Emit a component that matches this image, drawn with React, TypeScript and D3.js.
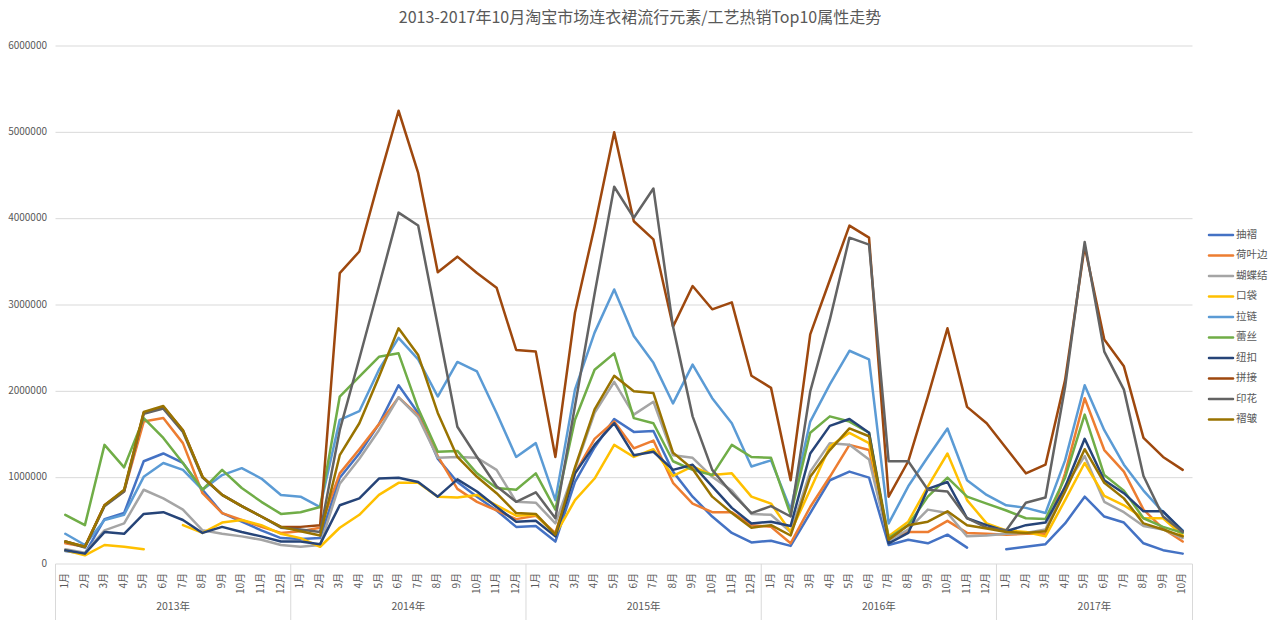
import React from "react";
import * as d3 from "d3";

const title = "2013-2017年10月淘宝市场连衣裙流行元素/工艺热销Top10属性走势";
const years = ["2013年", "2014年", "2015年", "2016年", "2017年"];
const monthsPerYear = [12, 12, 12, 12, 10];
const monthNames = ["1月", "2月", "3月", "4月", "5月", "6月", "7月", "8月", "9月", "10月", "11月", "12月"];
const yTicks = [0, 1000000, 2000000, 3000000, 4000000, 5000000, 6000000];

const seriesNames = ["抽褶", "荷叶边", "蝴蝶结", "口袋", "拉链", "蕾丝", "纽扣", "拼接", "印花", "褶皱"];
const seriesColors = ["#4472C4", "#ED7D31", "#A5A5A5", "#FFC000", "#5B9BD5", "#70AD47", "#264478", "#9E480E", "#636363", "#997300"];

type V = number | null;

const chouzhe: V[] = [
  150000, 120000, 520000, 590000, 1190000, 1280000, 1170000, 860000, 590000, 490000, 390000, 300000,
  290000, 300000, 1000000, 1280000, 1620000, 2070000, 1750000, 1220000, 950000, 780000, 620000, 430000,
  440000, 260000, 950000, 1350000, 1680000, 1530000, 1540000, 1070000, 780000, 550000, 360000, 250000,
  270000, 210000, 590000, 970000, 1070000, 1000000, 220000, 280000, 240000, 340000, 190000, null,
  170000, 200000, 230000, 470000, 780000, 550000, 480000, 240000, 160000, 120000,
];
const heyebian: V[] = [
  240000, 200000, 680000, 840000, 1650000, 1690000, 1400000, 820000, 590000, 510000, 430000, 360000,
  380000, 420000, 1050000, 1330000, 1620000, 1930000, 1720000, 1250000, 870000, 720000, 620000, 520000,
  560000, 360000, 1050000, 1450000, 1650000, 1340000, 1430000, 940000, 700000, 600000, 600000, 450000,
  430000, 240000, 660000, 1010000, 1380000, 1320000, 300000, 370000, 370000, 500000, 360000, 350000,
  340000, 350000, 350000, 1050000, 1920000, 1320000, 1070000, 630000, 410000, 260000,
];
const hudiejie: V[] = [
  170000, 130000, 390000, 470000, 860000, 760000, 630000, 390000, 350000, 320000, 280000, 220000,
  200000, 220000, 930000, 1220000, 1550000, 1930000, 1700000, 1230000, 1240000, 1230000, 1090000, 720000,
  710000, 470000, 1100000, 1750000, 2110000, 1730000, 1880000, 1260000, 1230000, 1010000, 850000, 580000,
  570000, 370000, 1070000, 1400000, 1380000, 1210000, 270000, 400000, 630000, 590000, 320000, 330000,
  350000, 360000, 400000, 900000, 1250000, 720000, 600000, 440000, 400000, 300000,
];
const koudai: V[] = [
  160000, 100000, 220000, 200000, 170000, null, 450000, 360000, 480000, 510000, 450000, 350000,
  300000, 200000, 420000, 570000, 800000, 940000, 940000, 780000, 770000, 800000, 680000, 560000,
  570000, 340000, 740000, 990000, 1380000, 1240000, 1330000, 1020000, 1130000, 1030000, 1050000, 780000,
  700000, 370000, 860000, 1360000, 1520000, 1400000, 320000, 490000, 900000, 1280000, 740000, 470000,
  390000, 370000, 320000, 740000, 1170000, 790000, 680000, 530000, 530000, 330000,
];
const lalian: V[] = [
  350000, 220000, 510000, 570000, 1010000, 1170000, 1090000, 860000, 1030000, 1110000, 990000, 800000,
  780000, 660000, 1670000, 1770000, 2250000, 2620000, 2370000, 1940000, 2340000, 2230000, 1750000, 1240000,
  1400000, 740000, 2020000, 2680000, 3180000, 2640000, 2330000, 1860000, 2310000, 1920000, 1630000, 1130000,
  1200000, 630000, 1650000, 2080000, 2470000, 2370000, 470000, 900000, 1240000, 1570000, 970000, 800000,
  680000, 650000, 590000, 1200000, 2070000, 1550000, 1150000, 850000, 600000, 390000,
];
const leisi: V[] = [
  570000, 450000, 1380000, 1120000, 1690000, 1460000, 1170000, 860000, 1090000, 880000, 720000, 580000,
  600000, 660000, 1940000, 2170000, 2400000, 2440000, 1800000, 1300000, 1310000, 1050000, 880000, 860000,
  1050000, 630000, 1670000, 2250000, 2440000, 1690000, 1630000, 1190000, 1090000, 1030000, 1380000, 1240000,
  1230000, 570000, 1520000, 1710000, 1650000, 1520000, 300000, 450000, 780000, 1000000, 780000, 700000,
  620000, 530000, 520000, 1000000, 1730000, 1030000, 850000, 530000, 430000, 360000,
];
const niukou: V[] = [
  160000, 120000, 370000, 350000, 580000, 600000, 510000, 360000, 430000, 370000, 320000, 260000,
  260000, 230000, 680000, 760000, 990000, 1000000, 950000, 780000, 980000, 840000, 660000, 490000,
  500000, 320000, 1050000, 1380000, 1630000, 1260000, 1300000, 1090000, 1150000, 900000, 650000, 470000,
  490000, 440000, 1280000, 1600000, 1680000, 1520000, 240000, 360000, 870000, 950000, 530000, 450000,
  380000, 450000, 480000, 890000, 1450000, 970000, 820000, 610000, 610000, 380000,
];
const pinjie: V[] = [
  260000, 200000, 680000, 850000, 1750000, 1820000, 1550000, 1010000, 800000, 670000, 550000, 430000,
  430000, 450000, 3370000, 3620000, 4450000, 5250000, 4530000, 3380000, 3560000, 3370000, 3200000, 2480000,
  2460000, 1240000, 2910000, 3910000, 5000000, 3970000, 3760000, 2750000, 3220000, 2950000, 3030000, 2180000,
  2040000, 970000, 2660000, 3290000, 3920000, 3780000, 780000, 1190000, 1940000, 2730000, 1820000, 1630000,
  1340000, 1050000, 1150000, 2130000, 3680000, 2600000, 2290000, 1460000, 1240000, 1090000,
];
const yinhua: V[] = [
  260000, 190000, 670000, 840000, 1740000, 1800000, 1530000, 1000000, 800000, 670000, 550000, 420000,
  400000, 370000, 1550000, 2380000, 3220000, 4070000, 3920000, 2760000, 1590000, 1240000, 900000, 720000,
  830000, 530000, 1830000, 3130000, 4370000, 4010000, 4350000, 2750000, 1710000, 1090000, 820000, 590000,
  670000, 550000, 2000000, 2830000, 3780000, 3700000, 1190000, 1190000, 860000, 840000, 530000, 420000,
  390000, 710000, 770000, 2050000, 3730000, 2460000, 2020000, 1020000, 550000, 370000,
];
const zhezhou: V[] = [
  260000, 200000, 680000, 860000, 1760000, 1830000, 1550000, 1010000, 800000, 670000, 550000, 430000,
  380000, 330000, 1260000, 1630000, 2170000, 2730000, 2420000, 1750000, 1240000, 1010000, 820000, 590000,
  580000, 340000, 1120000, 1790000, 2180000, 2000000, 1980000, 1290000, 1100000, 780000, 590000, 420000,
  450000, 330000, 1010000, 1320000, 1570000, 1480000, 280000, 450000, 490000, 610000, 450000, 410000,
  370000, 360000, 380000, 840000, 1330000, 940000, 760000, 470000, 400000, 320000,
];

const seriesValues = [chouzhe, heyebian, hudiejie, koudai, lalian, leisi, niukou, pinjie, yinhua, zhezhou];

const FONT = "'Noto Sans CJK SC', 'Noto Sans', sans-serif";
const TEXT = "#595959";
const GRID = "#d9d9d9";

export default function App() {
  const width = 1280;
  const height = 622;
  const left = 55.5;
  const right = 1192.5;
  const top = 46;
  const bottom = 564;

  const categories: { year: number; month: string; key: string }[] = [];
  monthsPerYear.forEach((n, yi) => {
    for (let m = 0; m < n; m++) categories.push({ year: yi, month: monthNames[m], key: `${yi}-${m}` });
  });

  const x = d3.scaleBand<string>().domain(categories.map((c) => c.key)).range([left, right]).padding(0);
  const cx = (i: number) => (x(categories[i].key) as number) + x.bandwidth() / 2;
  const y = d3.scaleLinear().domain([0, 6000000]).range([bottom, top]);

  const line = d3
    .line<V>()
    .defined((d) => d !== null)
    .x((_, i) => cx(i))
    .y((d) => y(d as number));

  const yearStarts: number[] = [];
  let acc = 0;
  monthsPerYear.forEach((n) => {
    yearStarts.push(acc);
    acc += n;
  });

  return (
    <svg
      width={width}
      height={height}
      style={{ position: "absolute", left: 0, top: 0, display: "block", background: "#fff" }}
      fontFamily={FONT}
    >
      <rect x={0} y={0} width={width} height={height} fill="#fff" />
      <text x={640} y={19} textAnchor="middle" dominantBaseline="middle" fontSize={16} fill={TEXT}>
        {title}
      </text>

      {yTicks.map((t) => (
        <g key={t}>
          {t > 0 && <line x1={left} x2={right} y1={y(t)} y2={y(t)} stroke={GRID} strokeWidth={1} />}
          <text x={47} y={y(t)} textAnchor="end" dominantBaseline="middle" fontSize={10} fill={TEXT}>
            {t}
          </text>
        </g>
      ))}

      <line x1={left} x2={right} y1={bottom} y2={bottom} stroke={GRID} strokeWidth={1} />
      {yearStarts.map((s, i) => (
        <line
          key={"sep" + i}
          x1={x(categories[s].key) as number}
          x2={x(categories[s].key) as number}
          y1={bottom}
          y2={620}
          stroke={GRID}
          strokeWidth={1}
        />
      ))}
      <line x1={right} x2={right} y1={bottom} y2={620} stroke={GRID} strokeWidth={1} />

      {categories.map((c, i) => (
        <text
          key={"m" + c.key}
          transform={`translate(${cx(i)},${573}) rotate(-90)`}
          textAnchor="end"
          dominantBaseline="middle"
          fontSize={10}
          fill={TEXT}
        >
          {c.month}
        </text>
      ))}
      {years.map((yr, i) => {
        const s = yearStarts[i];
        const e = s + monthsPerYear[i] - 1;
        const mid = ((x(categories[s].key) as number) + (x(categories[e].key) as number) + x.bandwidth()) / 2;
        return (
          <text key={yr} x={mid} y={607} textAnchor="middle" dominantBaseline="middle" fontSize={10.5} fill={TEXT}>
            {yr}
          </text>
        );
      })}

      {seriesValues.map((vals, si) => (
        <path
          key={seriesNames[si]}
          d={line(vals) || ""}
          fill="none"
          stroke={seriesColors[si]}
          strokeWidth={2.5}
          strokeLinejoin="round"
          strokeLinecap="round"
        />
      ))}

      {seriesNames.map((name, i) => {
        const ly = 235 + i * 20.5;
        return (
          <g key={"lg" + name}>
            <line x1={1209} x2={1233} y1={ly} y2={ly} stroke={seriesColors[i]} strokeWidth={2.5} strokeLinecap="round" />
            <text x={1236} y={ly} dominantBaseline="middle" fontSize={10.5} fill={TEXT}>
              {name}
            </text>
          </g>
        );
      })}
    </svg>
  );
}
